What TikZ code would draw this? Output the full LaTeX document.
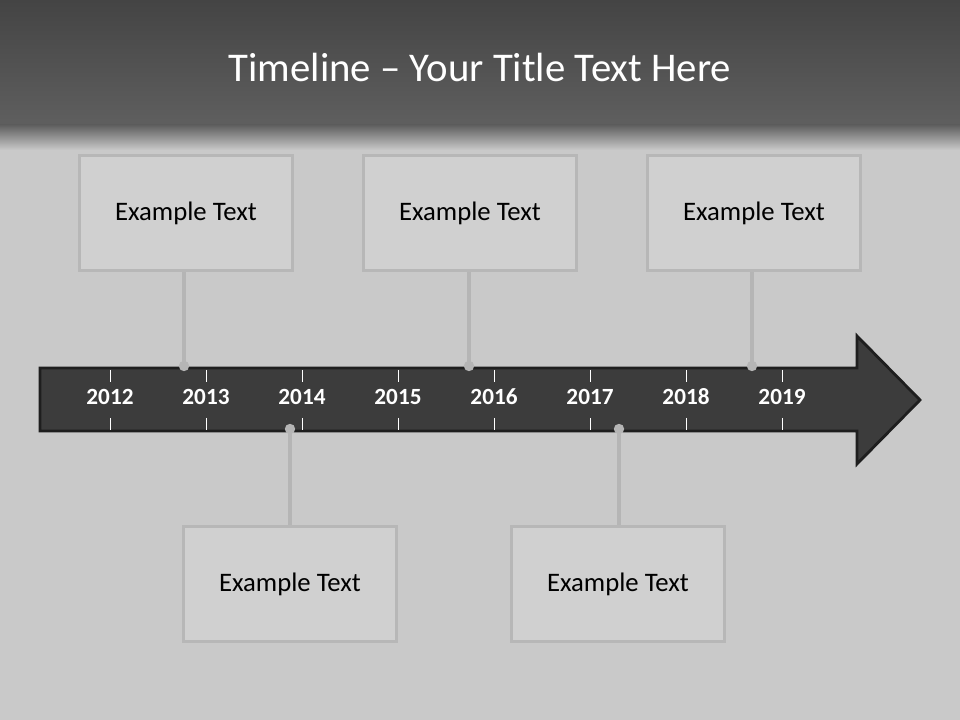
\documentclass[tikz,border=0pt]{standalone}
\usepackage{fontspec}
\setmainfont{Carlito}
\usetikzlibrary{positioning}
\definecolor{bandtop}{HTML}{444444}
\definecolor{bandbot}{HTML}{5F5F5F}
\definecolor{leather}{HTML}{C9C9C9}
\definecolor{arrowfill}{HTML}{3C3C3C}
\definecolor{arrowline}{HTML}{1E1E1E}
\definecolor{boxfill}{HTML}{D0D0D0}
\definecolor{boxline}{HTML}{B7B7B7}
\definecolor{stem}{HTML}{B5B5B5}

\begin{document}
\begin{tikzpicture}[x=0.025cm,y=-0.025cm,
  event/.style={draw=boxline,line width=0.075cm,fill=boxfill,minimum width=5.3cm,minimum height=2.85cm,font=\fontsize{19}{22}\selectfont,text=black},
  year/.style={text=white,font=\bfseries\fontsize{16.5}{18}\selectfont},
  tick/.style={white,line width=0.025cm},
  stemline/.style={stem,line width=0.1cm},
  knob/.style={fill=stem,draw=none}]
\useasboundingbox (0,0) rectangle (960,720);
% background
\fill[leather] (0,0) rectangle (960,720);
\shade[top color=bandtop,bottom color=bandbot] (0,0) rectangle (960,126);
\shade[top color=bandbot,bottom color=leather] (0,125) rectangle (960,150);
\node[text=white,font=\fontsize{29}{33}\selectfont] (title) at (480,67) {Timeline – Your Title Text Here};
% timeline arrow
\draw[fill=arrowfill,draw=arrowline,line width=0.07cm,line join=miter]
  (40,368) -- (857,368) -- (857,336) -- (920,400) -- (857,464) -- (857,431) -- (40,431) -- cycle;
\foreach \yr [count=\i from 0] in {2012,2013,2014,2015,2016,2017,2018,2019} {
  \draw[tick] (110+96*\i,370) -- (110+96*\i,382);
  \draw[tick] (110+96*\i,418) -- (110+96*\i,430);
  \node[year] (y\yr) at (110+96*\i,397) {\yr};
}
% event boxes
\node[event] (ex1) at (186,213) {Example Text};
\node[event] (ex2) at (470,213) {Example Text};
\node[event] (ex3) at (754,213) {Example Text};
\node[event] (ex4) at (290,584) {Example Text};
\node[event] (ex5) at (618,584) {Example Text};
% stems
\coordinate (d1) at (184,366);
\coordinate (d2) at (469,366);
\coordinate (d3) at (752,366);
\coordinate (d4) at (290,429);
\coordinate (d5) at (619,429);
\draw[stemline] (d1) -- (d1 |- ex1.south);
\draw[stemline] (d2) -- (d2 |- ex2.south);
\draw[stemline] (d3) -- (d3 |- ex3.south);
\draw[stemline] (d4) -- (d4 |- ex4.north);
\draw[stemline] (d5) -- (d5 |- ex5.north);
\foreach \d in {d1,d2,d3,d4,d5}
  \fill[knob] (\d) circle (0.13cm);
\end{tikzpicture}
\end{document}
